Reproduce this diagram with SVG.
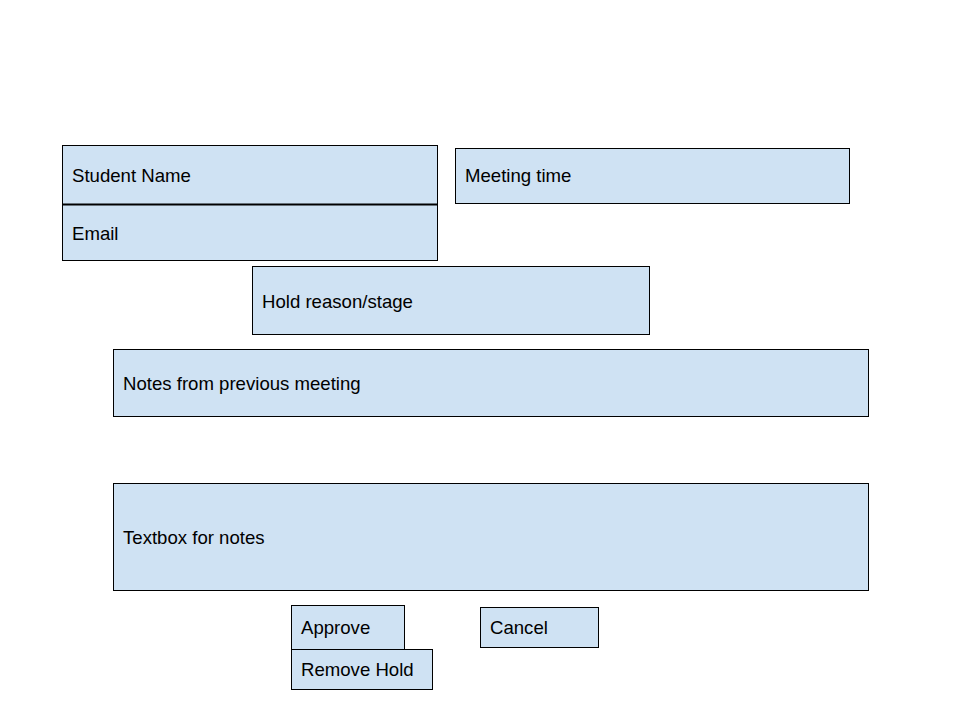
<svg xmlns="http://www.w3.org/2000/svg" width="960" height="720" viewBox="0 0 960 720">
<style>
.b{fill:#cfe2f3;stroke:#000;stroke-width:1}
.t{font-family:"Liberation Sans",Arial,sans-serif;font-size:18.6px;fill:#000}
</style>
<rect width="960" height="720" fill="#fff"/>
<g id="student-name"><rect class="b" x="62.5" y="145.5" width="375" height="59"/><text class="t" x="72" y="182">Student Name</text></g>
<g id="email"><rect class="b" x="62.5" y="204.5" width="375" height="56"/><line x1="62.5" y1="204.5" x2="437.5" y2="204.5" stroke="#000" stroke-width="1.8"/><text class="t" x="72" y="240">Email</text></g>
<g id="meeting-time"><rect class="b" x="455.5" y="148.5" width="394" height="55"/><text class="t" x="465" y="182">Meeting time</text></g>
<g id="hold-reason"><rect class="b" x="252.5" y="266.5" width="397" height="68"/><text class="t" x="262" y="308">Hold reason/stage</text></g>
<g id="notes-prev"><rect class="b" x="113.5" y="349.5" width="755" height="67"/><text class="t" x="123" y="390">Notes from previous meeting</text></g>
<g id="textbox"><rect class="b" x="113.5" y="483.5" width="755" height="107"/><text class="t" x="123" y="544">Textbox for notes</text></g>
<g id="approve"><rect class="b" x="291.5" y="605.5" width="113" height="44"/><text class="t" x="301" y="634">Approve</text></g>
<g id="remove-hold"><rect class="b" x="291.5" y="649.5" width="141" height="40"/><text class="t" x="301" y="676">Remove Hold</text></g>
<g id="cancel"><rect class="b" x="480.5" y="607.5" width="118" height="40"/><text class="t" x="490" y="634">Cancel</text></g>
<g id="connectors"></g>
</svg>
